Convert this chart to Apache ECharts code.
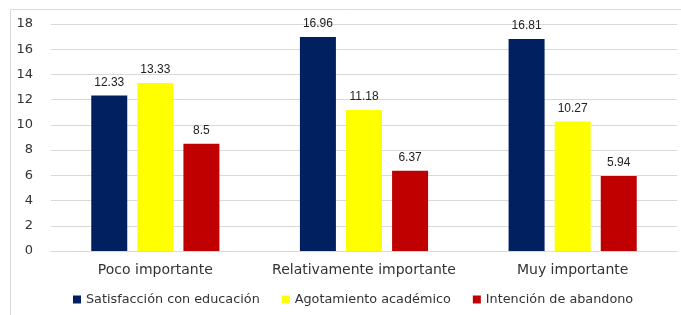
<!DOCTYPE html>
<html>
<head>
<meta charset="utf-8">
<script src="https://cdn.jsdelivr.net/npm/echarts@6/dist/echarts.min.js"></script>
<style>
html, body { margin: 0; padding: 0; background: #fff; }
#main { width: 681px; height: 315px; }
</style>
</head>
<body>
<div id="main"></div>
<script>
var categories = ['Poco importante', 'Relativamente importante', 'Muy importante'];
var satisfaccion = [12.33, 16.96, 16.81];
var agotamiento = [13.33, 11.18, 10.27];
var intencion = [8.5, 6.37, 5.94];

var myChart = echarts.init(document.getElementById('main'));

var labelStyle = {
    show: true,
    position: 'top',
    distance: 7,
    color: '#222',
    fontFamily: 'Liberation Sans',
    fontSize: 12
};

function makeSeries(name, data, color) {
    return {
        name: name,
        type: 'bar',
        data: data,
        barWidth: 36,
        barGap: '28%',
        itemStyle: { color: color },
        label: labelStyle
    };
}

myChart.setOption({
    animation: false,
    textStyle: { fontFamily: 'DejaVu Sans' },
    graphic: [{
        type: 'rect',
        shape: { x: 10.5, y: 9.5, width: 700, height: 400 },
        style: { fill: null, stroke: '#d9d9d9', lineWidth: 1 },
        silent: true
    }],
    grid: { left: 51, right: 4, top: 24, bottom: 64 },
    legend: {
        bottom: 4,
        left: 68,
        itemWidth: 8,
        itemHeight: 8,
        itemGap: 22,
        icon: 'rect',
        textStyle: { fontSize: 12.8, color: '#333', fontFamily: 'DejaVu Sans' },
        data: ['Satisfacción con educación', 'Agotamiento académico', 'Intención de abandono']
    },
    xAxis: {
        type: 'category',
        data: categories,
        axisTick: { show: false },
        axisLine: { lineStyle: { color: '#d9d9d9' } },
        axisLabel: { fontSize: 14, color: '#333', margin: 12, interval: 0 }
    },
    yAxis: {
        type: 'value',
        min: 0,
        max: 18,
        interval: 2,
        axisLine: { show: false },
        axisTick: { show: false },
        axisLabel: { fontSize: 13, color: '#333', margin: 18 },
        splitLine: { lineStyle: { color: '#d9d9d9' } }
    },
    series: [
        makeSeries('Satisfacción con educación', satisfaccion, '#002060'),
        makeSeries('Agotamiento académico', agotamiento, '#ffff00'),
        makeSeries('Intención de abandono', intencion, '#c00000')
    ]
});
</script>
</body>
</html>
